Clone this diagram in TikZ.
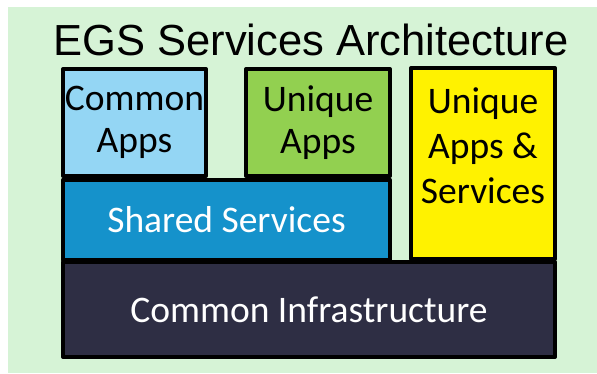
\documentclass[tikz,border=0pt]{standalone}
\usepackage{fontspec}
\setmainfont{Carlito}
\newfontfamily\titlefont{Liberation Sans}
\definecolor{bggreen}{HTML}{D6F3D6}
\definecolor{appblue}{HTML}{94D6F4}
\definecolor{appgreen}{HTML}{92D050}
\definecolor{srvblue}{HTML}{1592CB}
\definecolor{infranavy}{HTML}{2E2E44}
\begin{document}
\begin{tikzpicture}[x=1pt,y=-1pt,line join=round]
			\tikzset{layer/.style={draw=black,line width=4pt,inner sep=0pt,align=center,font=\fontsize{37.5}{42}\selectfont}}
			\useasboundingbox (0,0) rectangle (597,373);
			\fill[bggreen] (8,7) rectangle (597,373);
			\node[anchor=base,font=\titlefont\fontsize{43.5}{48}\selectfont] (title) at (311,55) {EGS Services Architecture};
			\node[layer,fill=appblue,minimum width=143pt,minimum height=107pt] (capps) at (134.5,122.5) {Common\\Apps};
			\node[layer,fill=appgreen,minimum width=144pt,minimum height=107pt] (uapps) at (318,122.5) {Unique\\Apps};
			\node[layer,fill=yellow,minimum width=144pt,minimum height=191pt] (uas) at (483,163.5) {};
			\node[anchor=north,align=center,font=\fontsize{37.5}{45}\selectfont,inner sep=0pt] (uastext) at ([yshift=-21pt]uas.north) {Unique\\Apps \&\\Services};
			\node[layer,fill=srvblue,text=white,minimum width=327pt,minimum height=80pt] (shared) at (226.5,219.5) {Shared Services};
			\node[layer,fill=infranavy,text=white,minimum width=492pt,minimum height=95pt] (infra) at (309,309.5) {Common Infrastructure};
		\end{tikzpicture}
\end{document}
